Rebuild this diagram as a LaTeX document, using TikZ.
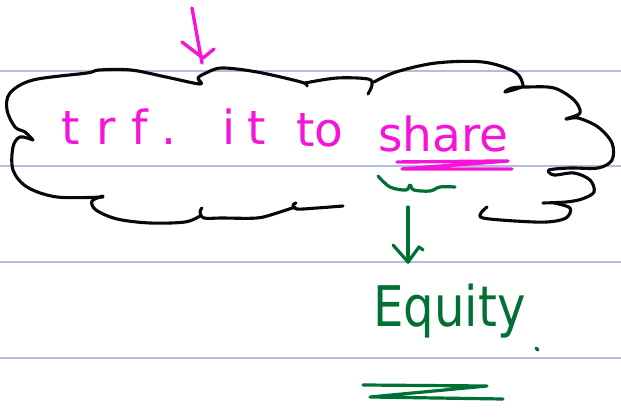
\documentclass[tikz,border=0pt]{standalone}
\usepackage{fontspec}
\usepackage{graphicx}
\setmainfont{DejaVu Sans}
\definecolor{ruleblue}{RGB}{178,190,218}
\definecolor{pinkink}{RGB}{245,20,215}
\definecolor{blackink}{RGB}{8,8,8}
\definecolor{greenink}{RGB}{0,112,52}
\tikzset{
  cloudline/.style={draw=blackink,line width=3.1pt,line cap=round,line join=round},
  pinkline/.style={draw=pinkink,line width=3.4pt,line cap=round,line join=round},
  greenline/.style={draw=greenink,line width=3.2pt,line cap=round,line join=round},
  ruleline/.style={draw=ruleblue,line width=1.2pt},
  pinktext/.style={text=pinkink,font=\fontsize{47}{47}\selectfont,inner sep=0pt,anchor=base west},
  greentext/.style={text=greenink,font=\fontsize{56}{56}\selectfont,inner sep=0pt,anchor=base west},
}
\begin{document}
\begin{tikzpicture}[x=1pt,y=-1pt]
\useasboundingbox (0,0) rectangle (621,419);
\fill[white] (0,0) rectangle (621,419);
% ruled lines
\foreach \yy in {71,166,262,358} \draw[ruleline] (0,\yy) -- (621,\yy);
% cloud
\draw[cloudline] plot[smooth,tension=0.55] coordinates {(33,140) (25,132) (15,127) (7,110) (10,93) (33,80) (87,73) (99,70) (131,70) (166,77) (200,84) (198,78) (206,73) (222,68) (257,72) (301,82) (307,86)};
\draw[cloudline] plot[smooth,tension=0.55] coordinates {(305,83) (337,78) (368,79) (372,85) (368,94)};
\draw[cloudline] plot[smooth,tension=0.55] coordinates {(374,82) (396,72) (436,63) (483,62) (515,72) (523,85) (519,88) (505,92) (512,88) (527,87) (554,88) (574,100) (580,113) (566,119) (578,118) (598,127) (612,143) (612,160) (598,168) (570,168) (549,170) (554,175) (574,173) (590,180) (594,192) (582,199) (566,202) (543,203)};
\draw[cloudline] plot[smooth,tension=0.55] coordinates {(554,203) (570,208) (566,218) (547,222) (515,221) (483,218) (481,213) (487,207)};
\draw[cloudline] plot[smooth,tension=0.55] coordinates {(343,206) (317,208) (297,209) (293,205) (296,203)};
\draw[cloudline] plot[smooth,tension=0.55] coordinates {(295,207) (277,213) (257,218) (222,218) (204,218) (200,212) (202,208)};
\draw[cloudline] plot[smooth,tension=0.55] coordinates {(200,216) (185,222) (150,223) (117,219) (96,210) (92,201) (103,196)};
\draw[cloudline] plot[smooth,tension=0.55] coordinates {(103,197) (57,197) (27,187) (13,170) (13,147) (20,137) (33,140)};
% pink words
\node[pinktext] (w1) at (61,145) {\addfontfeature{LetterSpace=35}trf.};
\node[pinktext] (w2) at (222,145) {\addfontfeature{LetterSpace=25}it};
\node[pinktext] (w3) at (296,147) {to};
\node[pinktext] (w4) at (378,152) {share};
% pink double underline
\draw[pinkline] (397,162) -- (508,161) -- (402,169) -- (512,169);
% pink arrow at top
\coordinate (pa1) at (192,8);
\coordinate (pa2) at (202,63);
\draw[pinkline] (pa1) -- (pa2);
\draw[pinkline] (182,42) -- (203,58) -- (214,49);
% green brace under share
\draw[greenline] plot[smooth,tension=0.6] coordinates {(378,176) (390,187) (406,190) (410,185) (414,190) (430,191) (440,187) (455,187)};
% green arrow
\coordinate (ga1) at (408,207);
\coordinate (ga2) at (408,262);
\draw[greenline] (ga1) -- (ga2);
\draw[greenline] (393,245) -- (408,262) -- (419,247) -- (423,250);
% Equity
\node[greentext] (eq) at (373,327) {\scalebox{0.86}[1]{Equity}};
\draw[greenline] (536,348) -- (538,350);
% green double underline
\draw[greenline] (363,385) -- (487,386) -- (370,397) -- (503,399);
\end{tikzpicture}
\end{document}
